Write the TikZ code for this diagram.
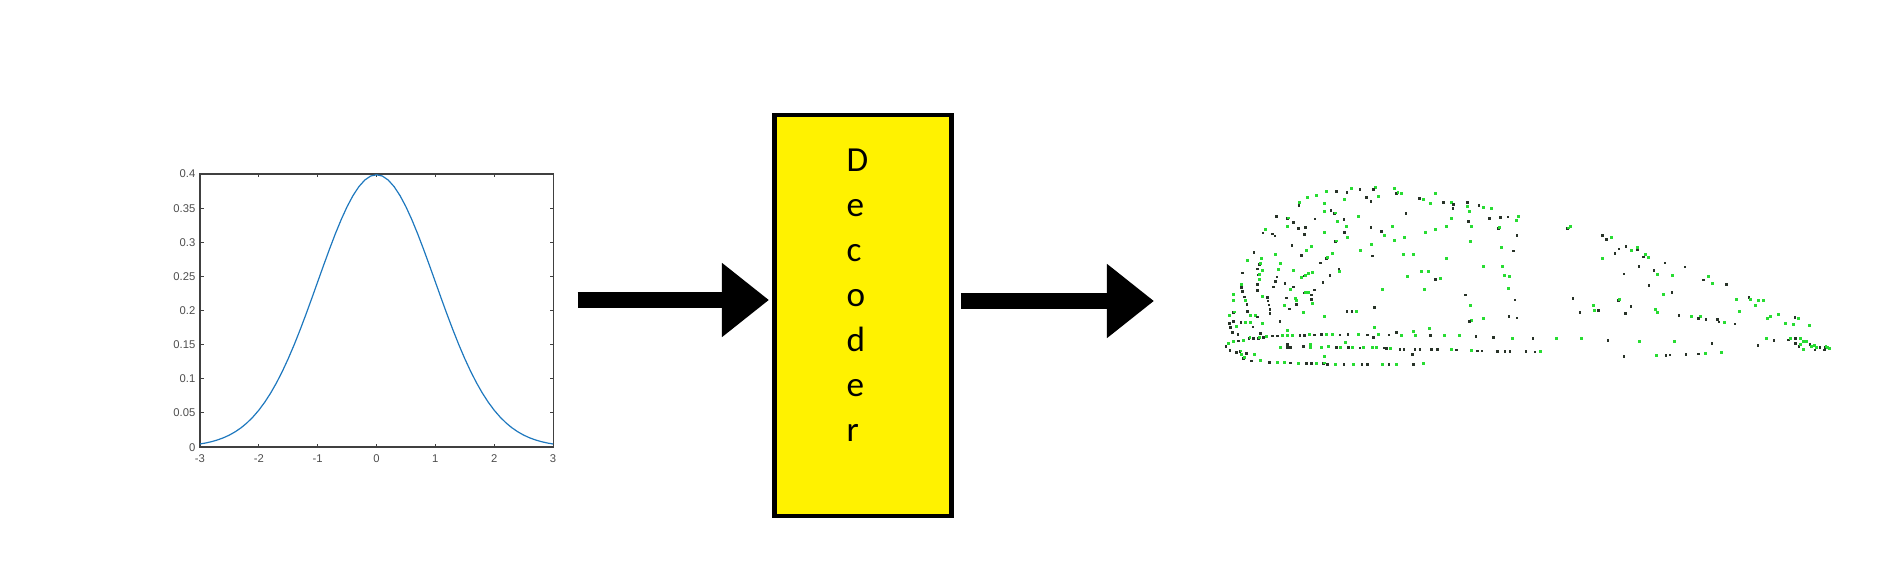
\documentclass[tikz,border=0pt]{standalone}
\usepackage{fontspec}
\setmainfont{Carlito}
\newfontfamily\ticksfont{Liberation Sans}
\usetikzlibrary{arrows.meta}
\definecolor{plotblue}{RGB}{30,120,190}
\definecolor{boxyellow}{RGB}{255,242,0}
\definecolor{cloudgreen}{RGB}{40,220,50}
\definecolor{clouddark}{RGB}{40,50,40}
\tikzset{
 plotframe/.style={draw=black!75,line width=0.012cm,inner sep=0pt,minimum width=3.53cm,minimum height=2.73cm},
 plottick/.style={black!75,line width=0.01cm},
 ticklabel/.style={inner sep=0pt,text=black!70,font=\ticksfont\fontsize{3.2}{4}\selectfont},
 yticklabel/.style={ticklabel,anchor=east},
 decoderbox/.style={draw=black,fill=boxyellow,line width=0.045cm,minimum width=1.77cm,minimum height=4.01cm},
 decodertext/.style={inner sep=0pt,anchor=north west,align=left,font=\fontsize{10}{12.8}\selectfont},
 bigarrow/.style={line width=0.16cm,-{Triangle[length=0.47cm,width=0.71cm]}}
}
\newcommand{\ptk}[1]{\fill[clouddark] (#1) ++(-4,-4) rectangle ++(8,8);}
\newcommand{\ptg}[1]{\fill[cloudgreen] (#1) ++(-4.5,-4.5) rectangle ++(9,9);}
\newcommand{\ptb}[1]{\ptk{#1}\fill[cloudgreen] (#1) ++(0,-6) rectangle ++(7,8);}
\begin{document}
\begin{tikzpicture}[x=0.01cm,y=-0.01cm]
 \useasboundingbox (0,0) rectangle (1888,576);
 % gaussian plot
 \node[plotframe] (plotbox) at (376.5,310.5) {};
 \draw[plottick](200,447)--(200,443.5); \draw[plottick](200,174)--(200,177.5);
 \draw[plottick](258.8,447)--(258.8,443.5); \draw[plottick](258.8,174)--(258.8,177.5);
 \draw[plottick](317.7,447)--(317.7,443.5); \draw[plottick](317.7,174)--(317.7,177.5);
 \draw[plottick](376.5,447)--(376.5,443.5); \draw[plottick](376.5,174)--(376.5,177.5);
 \draw[plottick](435.3,447)--(435.3,443.5); \draw[plottick](435.3,174)--(435.3,177.5);
 \draw[plottick](494.2,447)--(494.2,443.5); \draw[plottick](494.2,174)--(494.2,177.5);
 \draw[plottick](553,447)--(553,443.5); \draw[plottick](553,174)--(553,177.5);
 \draw[plottick](200,412.9)--(203.5,412.9); \draw[plottick](553,412.9)--(549.5,412.9);
 \draw[plottick](200,378.8)--(203.5,378.8); \draw[plottick](553,378.8)--(549.5,378.8);
 \draw[plottick](200,344.6)--(203.5,344.6); \draw[plottick](553,344.6)--(549.5,344.6);
 \draw[plottick](200,310.5)--(203.5,310.5); \draw[plottick](553,310.5)--(549.5,310.5);
 \draw[plottick](200,276.4)--(203.5,276.4); \draw[plottick](553,276.4)--(549.5,276.4);
 \draw[plottick](200,242.3)--(203.5,242.3); \draw[plottick](553,242.3)--(549.5,242.3);
 \draw[plottick](200,208.1)--(203.5,208.1); \draw[plottick](553,208.1)--(549.5,208.1);
 \node[ticklabel] (xa) at (200,459) {-3};
 \node[ticklabel] (xb) at (258.8,459) {-2};
 \node[ticklabel] (xc) at (317.7,459) {-1};
 \node[ticklabel] (xd) at (376.5,459) {0};
 \node[ticklabel] (xe) at (435.3,459) {1};
 \node[ticklabel] (xf) at (494.2,459) {2};
 \node[ticklabel] (xg) at (553,459) {3};
 \node[yticklabel] (ya) at (196,448) {0};
 \node[yticklabel] (yb) at (196,413) {0.05};
 \node[yticklabel] (yc) at (196,379) {0.1};
 \node[yticklabel] (yd) at (196,345) {0.15};
 \node[yticklabel] (ye) at (196,310.5) {0.2};
 \node[yticklabel] (yf) at (196,276.5) {0.25};
 \node[yticklabel] (yg) at (196,242.5) {0.3};
 \node[yticklabel] (yh) at (196,208.5) {0.35};
 \node[yticklabel] (yi) at (196,174) {0.4};
 \draw[plotblue,line width=0.012cm] plot[domain=-3:3,samples=61] ({376.5+58.83*\x},{447-682.5*0.3989*exp(-\x*\x/2)});
 % decoder
 \node[decoderbox] (decoder) at (863,315.5) {};
 \node[decodertext] (decoderword) at (846,148) {D\\e\\c\\o\\d\\e\\r};
 % arrows
 \coordinate (intip) at (769,300);
 \coordinate (outtip) at (1154,301);
 \draw[bigarrow,shorten <=0.24cm] (plotbox.east |- intip) -- (intip);
 \draw[bigarrow,shorten <=0.07cm] (decoder.east |- outtip) -- (outtip);
 % point cloud, left part
 \begin{scope}[shift={(1200,170)},scale=0.3333]
 \ptg{454,55}\ptk{480,58}\ptg{527,52}\ptk{520,59}\ptg{582,56}\ptb{590,70}\ptg{605,70}\ptk{410,64}\ptk{441,67}\ptg{379,65}
 \ptg{350,77}\ptg{323,82}\ptg{298,98}\ptk{297,106}\ptg{372,100}\ptg{434,90}\ptk{499,82}\ptg{535,80}\ptk{513,94}\ptk{659,85}
 \ptg{671,89}\ptg{692,101}\ptg{706,72}\ptk{730,97}\ptg{755,98}\ptk{760,104}\ptk{759,116}\ptk{803,97}\ptg{803,109}\ptk{837,107}
 \ptg{852,113}\ptg{876,115}\ptg{808,126}\ptg{372,125}\ptk{393,121}\ptb{403,131}\ptg{474,140}\ptk{618,131}\ptk{230,140}\ptb{262,146}
 \ptk{345,147}\ptk{432,149}\ptg{413,155}\ptk{280,157}\ptg{754,146}\ptk{805,155}\ptk{868,146}\ptk{902,143}\ptk{924,141}\ptg{956,140}
 \ptg{951,152}\ptg{262,169}\ptk{295,176}\ptk{317,172}\ptg{439,170}\ptk{513,172}\ptg{576,169}\ptg{741,169}\ptg{816,169}\ptb{895,175}
 \ptg{196,179}\ptk{189,189}\ptk{218,192}\ptk{225,198}\ptk{313,194}\ptg{372,187}\ptk{434,188}\ptk{545,185}\ptg{554,197}\ptg{441,204}
 \ptg{613,204}\ptg{678,187}\ptg{706,178}\ptk{951,196}\ptb{406,215}\ptg{582,213}\ptg{513,223}\ptg{811,215}\ptk{276,226}\ptg{334,229}
 \ptg{905,233}\ptg{319,242}\ptk{162,248}\ptg{225,253}\ptk{305,256}\ptg{396,252}\ptg{480,243}\ptk{518,258}\ptg{611,254}\ptg{642,254}
 \ptk{941,243}\ptb{379,265}\ptg{741,267}\ptg{143,272}\ptg{185,267}\ptb{178,283}\ptg{241,282}\ptk{361,279}\ptk{417,297}\ptg{417,304}
 \ptg{852,289}\ptg{908,289}\ptk{173,297}\ptg{188,303}\ptg{234,298}\ptg{281,301}\ptk{127,309}\ptb{175,315}\ptk{231,321}\ptg{303,322}
 \ptb{313,318}\ptg{325,312}\ptg{337,309}\ptk{390,316}\ptg{666,304}\ptg{685,305}\ptg{623,320}\ptg{915,318}\ptg{930,321}\ptk{706,328}
 \ptg{722,326}\ptg{178,329}\ptk{227,335}\ptk{255,341}\ptk{369,337}\ptg{124,345}\ptk{124,353}\ptk{173,343}\ptk{220,351}\ptk{281,351}
 \ptg{272,358}\ptk{173,361}\ptg{548,359}\ptg{673,360}\ptg{927,357}\ptk{127,365}\ptg{100,374}\ptb{313,369}\ptg{325,368}\ptk{343,360}
 \ptk{334,375}\ptk{334,388}\ptk{797,375}\ptk{133,381}\ptg{188,379}\ptk{203,383}\ptk{259,384}\ptg{285,385}\ptg{290,393}\ptg{99,392}
 \ptg{135,392}\ptk{204,393}\ptk{289,403}\ptg{338,400}\ptk{945,390}\ptk{141,403}\ptk{207,405}\ptg{253,407}\ptk{269,417}\ptk{524,413}
 \ptg{813,408}\ptk{142,424}\ptk{210,418}\ptk{210,430}\ptg{310,429}\ptk{441,424}\ptk{456,424}\ptg{468,424}\ptb{100,428}\ptg{88,437}
 \ptg{150,436}\ptg{165,438}\ptk{172,441}\ptg{372,440}\ptk{927,440}\ptk{951,444}\ptg{852,447}\ptk{100,455}\ptk{88,460}\ptk{123,457}
 \ptg{135,457}\ptg{150,457}\ptg{188,460}\ptk{240,454}\ptg{815,451}\ptk{808,455}\ptk{92,472}\ptg{108,470}\ptk{159,471}\ptg{524,472}
 \ptg{690,475}\ptg{262,481}\ptk{98,487}\ptk{114,493}\ptk{182,490}\ptg{642,484}\ptk{590,488}
 % upper line
 \ptg{85,522}\ptg{100,515}\ptk{115,513}\ptg{130,511}\ptb{147,505}\ptk{160,505}\ptb{175,505}\ptk{190,503}\ptg{200,500}\ptk{217,498}
 \ptk{232,498}\ptg{247,497}\ptg{262,497}\ptg{278,497}\ptk{300,496}\ptk{313,496}\ptg{328,495}\ptk{344,495}\ptk{365,494}\ptg{380,494}
 \ptg{398,495}\ptk{420,495}\ptk{444,494}\ptg{474,494}\ptk{503,495}\ptk{521,503}\ptg{535,495}\ptk{567,495}\ptg{605,496}\ptg{648,497}
 \ptk{692,497}\ptg{733,497}\ptg{778,497}\ptk{828,500}\ptk{880,502}\ptg{937,505}
 % lower line
 \ptk{78,530}\ptg{240,533}\ptk{262,523}\ptk{262,532}\ptk{272,533}\ptk{310,530}\ptg{330,525}\ptg{330,532}\ptg{365,532}\ptg{385,530}
 \ptk{410,532}\ptg{420,533}\ptg{435,518}\ptk{445,533}\ptg{456,533}\ptk{480,534}\ptg{490,534}\ptg{518,534}\ptg{528,534}\ptk{553,534}
 \ptk{560,535}\ptg{570,535}\ptk{600,538}\ptk{612,538}\ptk{645,539}\ptk{660,539}\ptk{695,539}\ptk{712,539}\ptg{755,540}\ptk{770,540}
 \ptg{815,543}\ptk{832,543}\ptk{846,543}\ptk{892,545}\ptk{915,545}\ptk{930,545}\ptk{978,545}\ptk{637,553}\ptg{372,560}
 % bottom row
 \ptk{90,542}\ptk{110,548}\ptb{120,545}\ptg{125,555}\ptb{130,565}\ptk{140,550}\ptg{162,555}\ptk{155,573}\ptg{180,573}\ptk{208,577}
 \ptg{232,577}\ptg{253,577}\ptk{272,579}\ptg{296,580}\ptk{320,580}\ptk{335,581}\ptg{350,581}\ptb{370,581}\ptk{382,583}\ptg{407,583}
 \ptk{432,583}\ptg{460,583}\ptk{486,583}\ptk{503,583}\ptg{548,583}\ptk{567,583}\ptg{590,583}\ptk{640,583}\ptg{672,581}
 \end{scope}
 % point cloud, right part
 \begin{scope}[shift={(1530,170)},scale=0.3333]
 \ptb{112,176}\ptg{122,170}\ptk{217,197}\ptk{229,209}\ptg{243,204}\ptk{288,229}\ptg{322,232}\ptk{322,240}\ptk{267,237}\ptg{303,243}
 \ptk{255,250}\ptg{347,253}\ptk{340,261}\ptg{354,264}\ptg{216,266}\ptk{405,279}\ptk{465,291}\ptk{327,289}\ptk{372,302}\ptk{282,312}
 \ptg{383,315}\ptg{426,318}\ptg{534,320}\ptk{520,330}\ptk{357,346}\ptg{546,342}\ptk{589,344}\ptk{426,367}\ptg{399,374}\ptk{129,385}
 \ptb{265,391}\ptg{619,390}\ptk{657,382}\ptg{662,389}\ptg{684,391}\ptg{699,393}\ptg{190,406}\ptk{303,410}\ptg{675,408}\ptk{205,421}
 \ptg{192,423}\ptk{150,427}\ptg{375,420}\ptg{383,428}\ptg{629,424}\ptk{286,430}\ptk{447,437}\ptg{484,440}\ptg{512,440}\ptk{506,445}
 \ptk{528,449}\ptk{562,448}\ptk{567,456}\ptg{582,457}\ptk{615,462}\ptg{745,433}\ptk{795,442}\ptg{805,447}\ptg{712,445}\ptg{720,441}
 \ptg{768,461}\ptg{790,463}\ptg{840,467}\ptk{9,505}\ptg{78,505}\ptg{155,507}\ptk{234,511}\ptg{328,514}\ptg{433,516}\ptk{546,520}
 \ptg{708,506}\ptk{732,511}\ptk{775,510}\ptg{782,506}\ptk{797,505}\ptg{813,506}\ptk{796,520}\ptg{820,515}\ptg{829,516}\ptk{684,526}
 \ptk{840,524}\ptk{807,530}\ptg{812,524}\ptg{845,530}\ptg{855,526}\ptg{860,533}\ptk{870,533}\ptb{885,532}\ptg{893,533}\ptg{900,535}
 \ptk{855,540}\ptk{883,540}\ptg{820,540}\ptk{15,546}\ptg{30,544}\ptk{282,559}\ptg{378,556}\ptk{408,556}\ptk{420,555}\ptk{468,553}
 \ptk{505,552}\ptg{527,550}\ptg{575,547}
 \end{scope}
\end{tikzpicture}
\end{document}
